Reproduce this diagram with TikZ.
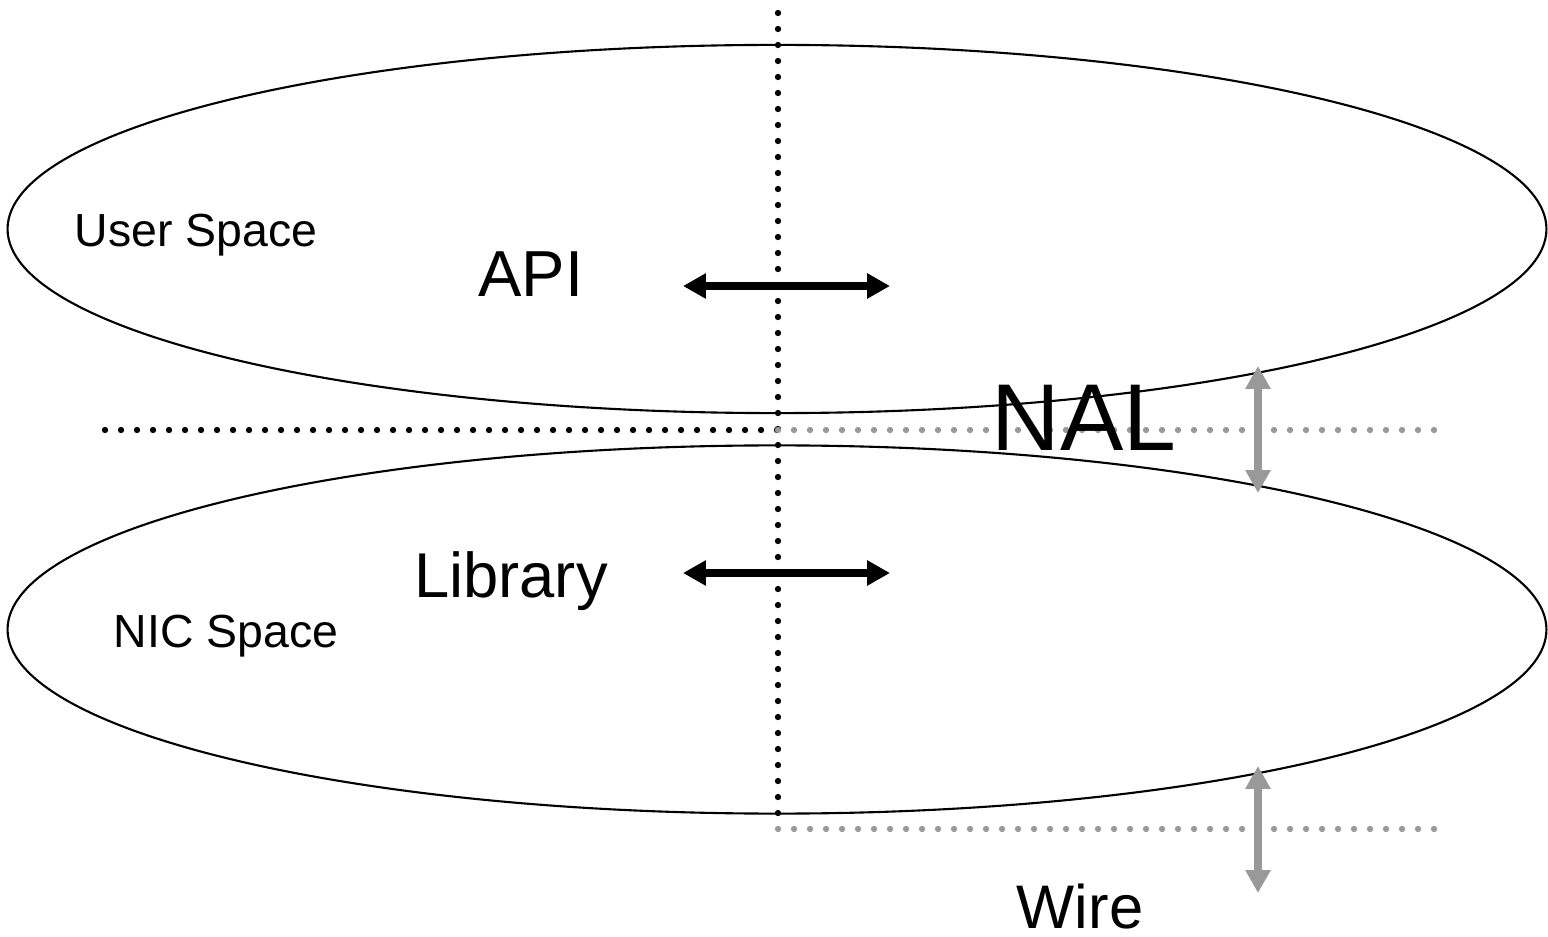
\documentclass[tikz,border=0pt]{standalone}
\usepackage{fontspec}
\setmainfont{Liberation Sans}
\usetikzlibrary{arrows.meta,shapes.geometric}
\definecolor{dotGray}{RGB}{153,153,153}

\begin{document}
\begin{tikzpicture}
[x=0.01cm,y=-0.01cm,%
  spaceDecorate/.style={shape=ellipse,draw,line width=0.6pt,inner sep=0pt,%
    minimum width=15.38cm,minimum height=3.68cm},%
  dotDecorate/.style={line width=1.8pt,line cap=round,dash pattern=on 0pt off 4.55pt},%
  arrowDecorate/.style={{Triangle[length=6.5pt,width=6.8pt]}-{Triangle[length=6.5pt,width=6.8pt]},%
    line width=2pt},%
  labelDecorate/.style={anchor=base,inner sep=0pt}]
\useasboundingbox (0,0) rectangle (1548,937);
%% end points of the lines and arrows
\foreach \pointname/\x/\y in {
  %% dotted borders
  dotTop/778/13, dotBottom/778/815,
  nalLeft/105/430, nalMid/778/430, nalRight/1437/430,
  wireMid/778/829, wireRight/1437/829,
  %% arrows
  apiLeft/683/286, apiRight/890/286, libLeft/683/573, libRight/890/573,
  nalTop/1258/366, nalBottom/1258/493, wireTop/1258/766, wireBottom/1258/893}
{
  \coordinate (\pointname) at (\x,\y);
}
%% dotted borders
\draw[dotDecorate] (dotTop) -- (dotBottom);
\draw[dotDecorate] (nalLeft) -- (nalMid);
\draw[dotDecorate,dotGray] (nalMid) -- (nalRight);
\draw[dotDecorate,dotGray] (wireMid) -- (wireRight);
%% the two spaces
\node (userSpace) at (777,229) [spaceDecorate] {};
\node (nicSpace) at (777,629.5) [spaceDecorate] {};
%% arrows
\draw[arrowDecorate] (apiLeft) -- (apiRight);
\draw[arrowDecorate] (libLeft) -- (libRight);
\draw[arrowDecorate,dotGray] (nalTop) -- (nalBottom);
\draw[arrowDecorate,dotGray] (wireTop) -- (wireBottom);
%% labels
\node (userLabel) at (196,247) [labelDecorate,font=\fontsize{13.2}{15}\selectfont] {User Space};
\node (nicLabel) at (226,647) [labelDecorate,font=\fontsize{13.2}{15}\selectfont] {NIC Space};
\node (apiLabel) at (531,297) [labelDecorate,font=\fontsize{18.5}{21}\selectfont] {API};
\node (libLabel) at (511,597) [labelDecorate,font=\fontsize{18}{21}\selectfont] {Library};
\node (nalLabel) at (1084,451) [labelDecorate,font=\fontsize{27}{31}\selectfont] {NAL};
\node (wireLabel) at (1080,928) [labelDecorate,text depth=0pt,font=\fontsize{17.5}{21}\selectfont] {Wire};
\end{tikzpicture}
\end{document}
